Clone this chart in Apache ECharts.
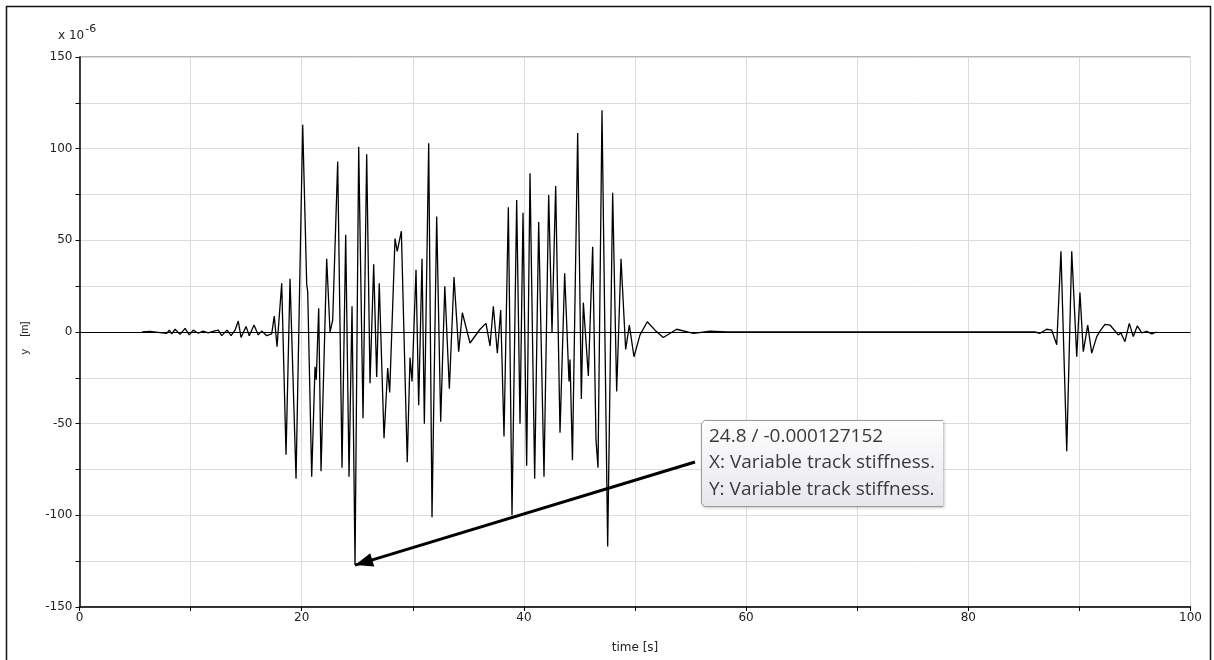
<!DOCTYPE html>
<html>
<head>
<meta charset="utf-8">
<script src="https://cdn.jsdelivr.net/npm/echarts@6/dist/echarts.min.js"></script>
<style>
html,body{margin:0;padding:0;background:#fff;}
#chart{width:1214px;height:660px;}
</style>
</head>
<body>
<div id="chart"></div>
<script>
// time [s]
var times = [5.63,6.35,7.25,7.85,8.08,8.30,8.60,9.05,9.50,9.88,10.24,10.69,11.12,11.57,12.02,12.49,12.80,13.28,13.64,14.00,14.29,14.54,14.99,15.28,15.71,16.09,16.40,16.85,17.30,17.53,17.78,18.20,18.59,18.95,19.49,20.09,20.45,20.54,20.90,21.20,21.31,21.53,21.74,22.25,22.55,22.79,23.24,23.63,23.96,24.26,24.53,24.8,25.13,25.52,25.85,26.15,26.48,26.75,26.98,27.41,27.74,27.92,28.40,28.60,28.97,29.09,29.50,29.75,29.93,30.29,30.53,30.83,31.04,31.43,31.73,32.15,32.51,32.88,33.29,33.71,34.13,34.46,35.15,36.05,36.59,36.95,37.25,37.61,37.91,38.21,38.60,38.93,39.35,39.65,39.92,40.25,40.55,40.97,41.33,41.81,42.23,42.53,42.86,43.25,43.67,44.06,44.15,44.37,44.84,45.17,45.35,45.80,46.19,46.49,46.67,47.03,47.54,47.99,48.35,48.74,49.16,49.49,49.91,50.45,51.11,51.80,52.55,53.75,55.25,56.75,58.26,59.63,
  86.00,86.45,87.06,87.51,87.96,88.34,88.86,89.31,89.76,90.05,90.35,90.75,91.11,91.56,91.85,92.30,92.75,93.50,93.74,94.10,94.49,94.85,95.21,95.61,96.06,96.51,96.96];
// y [m] x 10^-6
var values = [0,0.3,-0.3,-0.7,1,-1,1.5,-1.3,2,-1.6,1,-0.7,0.5,-0.5,0.3,1,-2,1,-2,1,6,-3,3,-2,3.8,-1.6,0.5,-2,-1,8.7,-8,26.6,-67,29,-80,113,26,22,-79,-19,-26,13,-76,40,0,6.5,93,-74,53,-79,14,-127.152,101,-47,97,-28,37,-24.5,26.6,-58,-19.6,-33,51,44,55,54,-71,-14,-27,34,-40,40,-50,103,-101,63,-49,25,-31,30,-10.7,10.5,-6,1.5,4.7,-7.6,14,-11.6,12,-57,68,-100,72,-50,65,-73,86.6,-80,60,-79,74.7,0,79.6,-55,32,-27,-15,-70,108.5,-36.6,16,-24,46.5,-59,-74,121,-117,76,-32.5,40,-9.5,3.8,-13.5,-1.6,5.6,1,-3,1.5,-0.7,0.4,0,0,
  0,-0.7,1.5,1,-7,44,-65,44,-13.5,21.5,-10.7,3.8,-11.5,-2.5,0.5,4.2,3.8,-1.6,-0.5,-5.3,4.7,-2.5,3.3,-0.5,0.3,-1,0];
var xTicks = [0,20,40,60,80,100];
var yTicks = [-150,-100,-50,0,50,100,150];
var marked = [24.8, -127.152];
var arrowStart = [55.4, -70.9];
var boxLines = ['24.8 / -0.000127152', 'X: Variable track stiffness.', 'Y: Variable track stiffness.'];

var pts = times.map(function(t,i){return [t, values[i]];});
var chart = echarts.init(document.getElementById('chart'), null, {renderer:'canvas'});
var FONT = 'DejaVu Sans, Verdana, sans-serif';
var axisFont = {fontFamily:FONT, fontSize:12, color:'#222'};
var option = {
  animation:false,
  backgroundColor:'#fff',
  grid:{left:79.5, right:23.5, top:57, bottom:53, show:true, borderColor:'#6a6a6a', borderWidth:1, backgroundColor:'transparent'},
  xAxis:{type:'value', min:0, max:100, interval:10,
    name:'time [s]', nameLocation:'middle', nameGap:35,
    nameTextStyle:{fontFamily:FONT, fontSize:12, color:'#222'},
    axisLine:{show:true, onZero:false, lineStyle:{color:'#000', width:1.5}},
    axisTick:{show:true, length:4, lineStyle:{color:'#000'}},
    axisLabel:Object.assign({margin:5, formatter:function(v){return xTicks.indexOf(v)>=0? String(v):'';}}, axisFont),
    splitLine:{show:true, lineStyle:{color:'#dcdcdc', width:1}}},
  yAxis:{type:'value', min:-150, max:150, interval:25,
    axisLine:{show:true, onZero:false, lineStyle:{color:'#000', width:1.5}},
    axisTick:{show:true, length:4, lineStyle:{color:'#000'}},
    axisLabel:Object.assign({margin:7, formatter:function(v){return yTicks.indexOf(v)>=0? String(v):'';}}, axisFont),
    splitLine:{show:true, lineStyle:{color:'#dcdcdc', width:1}}},
  series:[{
    type:'line', data:pts, showSymbol:false, symbol:'none', smooth:false,
    lineStyle:{color:'#000', width:1.3}, z:3,
    markLine:{silent:true, symbol:['none','none'], label:{show:false}, animation:false,
      data:[
        [{coord:[0,0], lineStyle:{color:'#000', width:1, type:'solid'}}, {coord:[100,0]}],
        [{coord:arrowStart, symbol:'none', lineStyle:{color:'#000', width:3, type:'solid'}},
         {coord:marked, symbol:'triangle', symbolSize:[14,18], symbolOffset:[0,9]}]
      ]}
  }],
  graphic:[
    {type:'rect', z:100, shape:{x:6.5, y:6.5, width:1204, height:680}, style:{fill:'none', stroke:'#111', lineWidth:1.5}},
    {type:'text', z:100, left:58, top:24, style:{text:'{a|x 10}{b|-6}', rich:{a:{fontFamily:FONT, fontSize:12, fill:'#222', padding:[6,0,0,0]}, b:{fontFamily:FONT, fontSize:11, fill:'#222', verticalAlign:'top', padding:[0,0,6,1]}}}},
    {type:'text', z:100, x:25, y:338, rotation:Math.PI/2, style:{text:'y    [m]', fontFamily:'Liberation Sans, Arial, sans-serif', fontSize:11, fill:'#222', align:'center', verticalAlign:'middle'}},
    {type:'rect', z:99, shape:{x:701.5, y:420.5, width:241.5, height:86, r:[3,0,0,3]}, style:{fill:{type:'linear',x:0,y:0,x2:0,y2:1,colorStops:[{offset:0,color:'#ffffff'},{offset:1,color:'#e6e6ee'}]}, shadowBlur:3, shadowColor:'rgba(0,0,0,0.3)', shadowOffsetX:1, shadowOffsetY:1}},
    {type:'polyline', z:99.5, shape:{points:[[943,420.5],[704.5,420.5],[701.5,423.5],[701.5,503.5],[704.5,506.5],[943,506.5]]}, style:{fill:null, stroke:'#9a9a9a', lineWidth:1}},
    {type:'text', z:101, x:709, y:423, style:{text:boxLines.join('\n'), fontFamily:'Open Sans, sans-serif', fontSize:19, lineHeight:26.5, fill:'#3a3a3a', width:234, overflow:'truncate', ellipsis:''}}
  ]
};
chart.setOption(option);
</script>
</body>
</html>
